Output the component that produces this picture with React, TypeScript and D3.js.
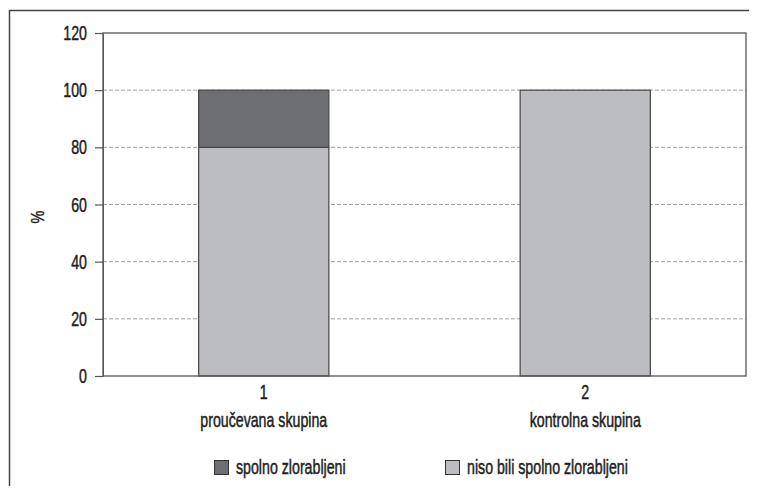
import { useEffect, useRef } from 'react'
import * as d3 from 'd3'

const CATEGORIES = ['1', '2']
const CATEGORY_NAMES = ['proučevana skupina', 'kontrolna skupina']
const ABUSED = [20, 0]
const NOT_ABUSED = [80, 100]
const Y_TICKS = [0, 20, 40, 60, 80, 100, 120]
const SERIES = ['spolno zlorabljeni', 'niso bili spolno zlorabljeni']
const COLORS = ['#6d6e72', '#bcbdc1']

const FONT = '"Liberation Sans", Arial, sans-serif'
const SQUEEZE = 0.71 // the original font is a condensed one

type Sel = d3.Selection<SVGGElement, unknown, null, undefined>

// condensed text: draw in a group that is squeezed horizontally
function label(parent: Sel, x: number, y: number, txt: string, anchor: string, size: number) {
  parent
    .append('g')
    .attr('transform', `translate(${x},${y}) scale(${SQUEEZE},1)`)
    .append('text')
    .attr('text-anchor', anchor)
    .attr('font-family', FONT)
    .attr('font-size', size)
    .attr('fill', '#1e1e1e')
    .attr('stroke', '#1e1e1e')
    .attr('stroke-width', 0.5)
    .text(txt)
}

export default function App() {
  const svgRef = useRef<SVGSVGElement>(null)

  useEffect(() => {
    if (!svgRef.current) return
    const width = 757
    const height = 494
    const marginLeft = 103
    const marginRight = 11
    const marginTop = 33
    const plotBottom = 376

    const svg = d3.select(svgRef.current)
    svg.selectAll('*').remove()
    svg.attr('width', width).attr('height', height)
    const root = svg.append('g') as unknown as Sel

    // outer frame
    root
      .append('path')
      .attr('d', `M9.5,${height} V10.5 H${width}`)
      .attr('fill', 'none')
      .attr('stroke', '#444')
      .attr('stroke-width', 1.5)

    const x = d3.scaleBand(CATEGORIES, [marginLeft, width - marginRight])
    const y = d3.scaleLinear([0, 120], [plotBottom, marginTop])
    const barW = x.bandwidth() * 0.405

    // gridlines
    root
      .append('g')
      .selectAll('line')
      .data(Y_TICKS.filter((t) => t > 0 && t < 120))
      .join('line')
      .attr('x1', marginLeft)
      .attr('x2', width - marginRight)
      .attr('y1', (d) => y(d))
      .attr('y2', (d) => y(d))
      .attr('stroke', '#a0a0a0')
      .attr('stroke-dasharray', '4,2')
      .attr('stroke-width', 1)

    // bars
    const stack = CATEGORIES.map((c, i) => ({ c, lo: NOT_ABUSED[i], hi: ABUSED[i] }))
    const g = root.append('g')
    g.selectAll('rect.lo')
      .data(stack)
      .join('rect')
      .attr('class', 'lo')
      .attr('x', (d) => x(d.c)! + (x.bandwidth() - barW) / 2)
      .attr('width', barW)
      .attr('y', (d) => y(d.lo))
      .attr('height', (d) => y(0) - y(d.lo))
      .attr('fill', COLORS[1])
      .attr('stroke', '#444')
      .attr('stroke-width', 1.2)
    g.selectAll('rect.hi')
      .data(stack.filter((d) => d.hi > 0))
      .join('rect')
      .attr('class', 'hi')
      .attr('x', (d) => x(d.c)! + (x.bandwidth() - barW) / 2)
      .attr('width', barW)
      .attr('y', (d) => y(d.lo + d.hi))
      .attr('height', (d) => y(d.lo) - y(d.lo + d.hi))
      .attr('fill', COLORS[0])
      .attr('stroke', '#444')
      .attr('stroke-width', 1.2)

    // plot border
    root
      .append('rect')
      .attr('x', marginLeft)
      .attr('y', marginTop)
      .attr('width', width - marginRight - marginLeft)
      .attr('height', plotBottom - marginTop)
      .attr('fill', 'none')
      .attr('stroke', '#555')
      .attr('stroke-width', 1.3)

    // y axis ticks
    const yAxis = d3.axisLeft(y).tickValues(Y_TICKS).tickSize(8).tickFormat(() => '')
    const ya = root.append('g').attr('transform', `translate(${marginLeft},0)`).call(yAxis)
    ya.select('.domain').attr('stroke', '#555')
    ya.selectAll('line').attr('stroke', '#555').attr('stroke-width', 1.2)
    Y_TICKS.forEach((t) => label(root, 87, y(t) + 7, String(t), 'end', 20))

    // x labels
    CATEGORIES.forEach((c, i) => {
      const cx = x(c)! + x.bandwidth() / 2
      label(root, cx, 399, c, 'middle', 20)
      label(root, cx, 427, CATEGORY_NAMES[i], 'middle', 20)
    })

    // y title
    root
      .append('g')
      .attr('transform', 'translate(44,217) rotate(-90) scale(0.8,1)')
      .append('text')
      .attr('text-anchor', 'middle')
      .attr('font-family', FONT)
      .attr('font-size', 18)
      .attr('fill', '#1e1e1e')
      .attr('stroke', '#1e1e1e')
      .attr('stroke-width', 0.4)
      .text('%')

    // legend
    const legendX = [214, 445]
    SERIES.forEach((s, i) => {
      root
        .append('rect')
        .attr('x', legendX[i] + 0.5)
        .attr('y', 460.5)
        .attr('width', 14)
        .attr('height', 14)
        .attr('fill', COLORS[i])
        .attr('stroke', '#333')
        .attr('stroke-width', 1)
      label(root, legendX[i] + 22, 474, s, 'start', 20)
    })
  }, [])

  return (
    <div style={{ margin: -8 }}>
      <svg ref={svgRef} style={{ display: 'block' }} />
    </div>
  )
}
